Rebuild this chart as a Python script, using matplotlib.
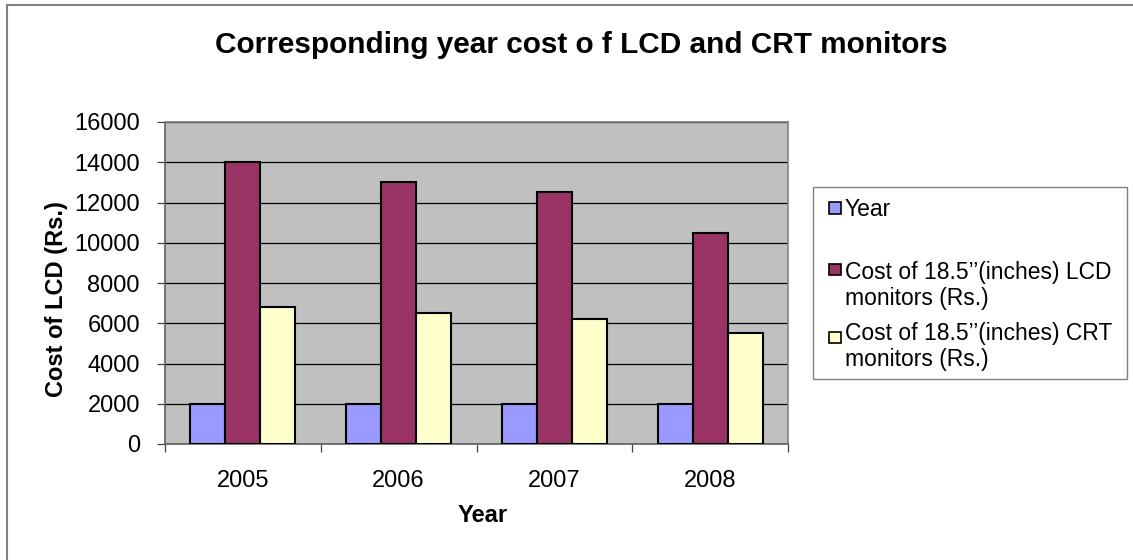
import matplotlib
matplotlib.use("Agg")
import matplotlib.pyplot as plt
import numpy as np
from matplotlib.lines import Line2D
from matplotlib.patches import Rectangle

# chart data
years = ["2005", "2006", "2007", "2008"]
year_vals = [2005, 2006, 2007, 2008]
lcd_cost = [14000, 13000, 12500, 10500]
crt_cost = [6800, 6500, 6200, 5500]

series_names = [
    "Year",
    "Cost of 18.5\u2019\u2019(inches) LCD\nmonitors (Rs.)",
    "Cost of 18.5\u2019\u2019(inches) CRT\nmonitors (Rs.)",
]
series_colors = ["#9999FF", "#993366", "#FFFFCC"]

W, H = 1133, 560
plt.rcParams["font.family"] = ["Liberation Sans", "DejaVu Sans"]

fig = plt.figure(figsize=(W / 100, H / 100), dpi=100)


def fx(px):
    return px / W


def fy(py):
    return 1 - py / H


# plot area in pixel terms
left, top, right, bottom = 165, 122, 788, 444
ax = fig.add_axes([fx(left), fy(bottom), fx(right - left), (bottom - top) / H])
ax.set_facecolor("#C0C0C0")

x = np.arange(1, len(years) + 1)
bw = 0.2247
for i, (vals, col) in enumerate(zip([year_vals, lcd_cost, crt_cost], series_colors)):
    ax.bar(x + (i - 1) * bw, vals, width=bw, color=col, edgecolor="black",
           linewidth=1.5, zorder=3)

ax.set_xlim(0.5, len(years) + 0.5)
ax.set_ylim(0, 16000)
ax.set_yticks(np.arange(0, 16001, 2000))
ax.yaxis.grid(True, color="black", linewidth=0.9, zorder=1)
ax.set_axisbelow(True)

ax.set_xticks(np.arange(0.5, len(years) + 1, 1.0))
ax.set_xticklabels([])
ax.set_xticks(x, minor=True)
ax.set_xticklabels(years, minor=True)
ax.tick_params(axis="x", which="major", length=6, width=0.9, color="#404040")
ax.tick_params(axis="x", which="minor", length=0, pad=19, labelsize=17)
ax.tick_params(axis="y", length=6, width=0.9, color="#404040", pad=12, labelsize=17)

for s in ax.spines.values():
    s.set_color("#808080")
    s.set_linewidth(1.2)
ax.spines["left"].set_color("#606060")
ax.spines["bottom"].set_color("#606060")

ax.set_ylabel("Cost of LCD (Rs.)", fontsize=17, fontweight="bold")
ax.yaxis.set_label_coords((57 - left) / (right - left), (bottom - 299) / (bottom - top))
ax.yaxis.label.set_va("center")
ax.set_xlabel("Year", fontsize=17, fontweight="bold")
ax.xaxis.set_label_coords((483 - left) / (right - left), (bottom - 516) / (bottom - top))
ax.xaxis.label.set_va("center")

fig.text(fx(581), fy(45), "Corresponding year cost o f LCD and CRT monitors",
         ha="center", va="center", fontsize=21.4, fontweight="bold")

# legend box drawn by hand to match the Excel layout
fig.add_artist(Rectangle((fx(813), fy(379)), fx(1127 - 813), (379 - 187) / H,
                         transform=fig.transFigure, facecolor="white",
                         edgecolor="#808080", linewidth=1.0))
marker_y = [208, 270, 337]
text_y = [209, 285.5, 346.5]
for name, col, my, ty in zip(series_names, series_colors, marker_y, text_y):
    fig.add_artist(Rectangle((fx(829), fy(my + 5.5)), fx(12), 11 / H,
                             transform=fig.transFigure, facecolor=col,
                             edgecolor="black", linewidth=1.2))
    fig.text(fx(845), fy(ty), name, ha="left", va="center", fontsize=16.5,
             linespacing=1.2)

# chart outer border (left and top only, as cropped)
fig.add_artist(Line2D([fx(7), fx(7), fx(W)], [0, fy(5), fy(5)],
                      transform=fig.transFigure, color="#808080", linewidth=1.5))

fig.savefig("out.png", dpi=100, facecolor="white")
